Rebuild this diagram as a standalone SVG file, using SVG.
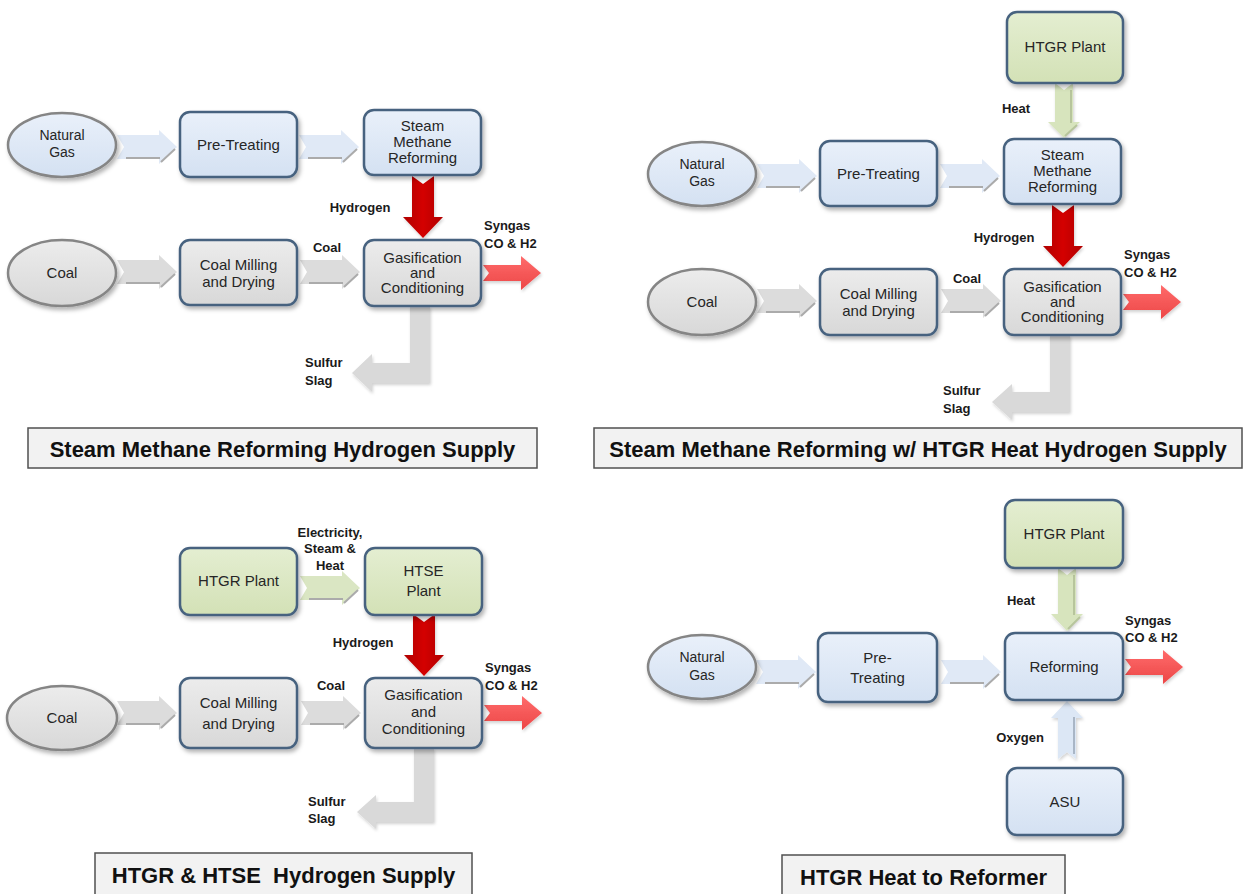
<svg xmlns="http://www.w3.org/2000/svg" xmlns:xlink="http://www.w3.org/1999/xlink" width="1250" height="894" viewBox="0 0 1250 894">
  <defs>
    <linearGradient id="gBlue" x1="0" y1="0" x2="0" y2="1">
      <stop offset="0" stop-color="#e9f0fa"/>
      <stop offset="1" stop-color="#d4e1f2"/>
    </linearGradient>
    <linearGradient id="gGray" x1="0" y1="0" x2="0" y2="1">
      <stop offset="0" stop-color="#ececec"/>
      <stop offset="1" stop-color="#d8d8d8"/>
    </linearGradient>
    <linearGradient id="gGreen" x1="0" y1="0" x2="0" y2="1">
      <stop offset="0" stop-color="#e4eed1"/>
      <stop offset="1" stop-color="#d3e1b6"/>
    </linearGradient>
    <linearGradient id="gRed" x1="0" y1="0" x2="1" y2="0">
      <stop offset="0" stop-color="#b00000"/>
      <stop offset="0.5" stop-color="#d40000"/>
      <stop offset="1" stop-color="#b00000"/>
    </linearGradient>
    <linearGradient id="gSyn" x1="0" y1="0" x2="0" y2="1">
      <stop offset="0" stop-color="#ff6b6b"/>
      <stop offset="1" stop-color="#ec4646"/>
    </linearGradient>
    <filter id="sh" x="-15%" y="-15%" width="140%" height="150%">
      <feDropShadow dx="2" dy="3" stdDeviation="2" flood-color="#000" flood-opacity="0.3"/>
    </filter>
    <filter id="shl" x="-15%" y="-15%" width="140%" height="150%">
      <feDropShadow dx="1" dy="2" stdDeviation="1.5" flood-color="#000" flood-opacity="0.18"/>
    </filter>
    <!-- notched horizontal flow arrow, 60 long, centred on y=0 -->
    <g id="chev">
      <path d="M0,-12 L42,-12 L42,-17 L60,0 L42,17 L42,12 L0,12 L7,0 Z"/>
      <path d="M9,11 L43,11 M44,15 L58,2" fill="none" stroke="#ababab" stroke-width="2"/>
    </g>
    <style>
      .box { stroke:#46627f; stroke-width:2.5; filter:url(#sh); }
      .ell { stroke:#858585; stroke-width:2.5; filter:url(#sh); }
      .blue { fill:url(#gBlue); }
      .gray { fill:url(#gGray); }
      .green { fill:url(#gGreen); }
      .cb { fill:#e0e9f6; }
      .cg { fill:#dcdcdc; }
      .cn { fill:#dae6c3; }
      .h2 { fill:url(#gRed); filter:url(#shl); }
      .syn { fill:url(#gSyn); filter:url(#shl); }
      .slag { fill:#d9d9d9; filter:url(#shl); }
      .heat { fill:#d7e4bd; filter:url(#shl); }
      .oxy { fill:#dce7f5; filter:url(#shl); }
      .edge { fill:none; stroke-width:2; }
      .t { font-family:"Liberation Sans", Arial, sans-serif; font-size:15px; fill:#262626; text-anchor:middle; }
      .te { font-size:14px; }
      .lb { font-family:"Liberation Sans", Arial, sans-serif; font-size:13px; font-weight:bold; fill:#1a1a1a; }
      .lc { text-anchor:middle; }
      .ttl rect { fill:#f2f2f2; stroke:#505050; stroke-width:1.5; }
      .ttl text { font-family:"Liberation Sans", Arial, sans-serif; font-size:22px; font-weight:bold; fill:#111; text-anchor:middle; }
    </style>
  </defs>

  <rect width="1250" height="894" fill="#ffffff"/>

  <!-- ===== Panel 1: Steam Methane Reforming Hydrogen Supply ===== -->
  <g id="p1">
    <g id="p1-connectors">
      <use xlink:href="#chev" href="#chev" x="117" y="147" class="cb"/>
      <use xlink:href="#chev" href="#chev" x="299" y="147" class="cb"/>
      <use xlink:href="#chev" href="#chev" x="117" y="272" class="cg"/>
      <use xlink:href="#chev" href="#chev" x="300" y="272" class="cg"/>
      <path class="h2" d="M412,176 L423,184 L434,176 L434,217 L443,217 L423,238 L403,217 L412,217 Z"/>
      <path class="syn" d="M483,265 L521,265 L521,256 L541,273 L521,290 L521,281 L483,281 L489,273 Z"/>
      <path class="slag" d="M410,306 L430,306 L430,383 L372,383 L372,392 L352,373 L372,354 L372,363 L410,363 Z"/>
      <text class="lb lc" x="360" y="212">Hydrogen</text>
      <text class="lb lc" x="327" y="252">Coal</text>
      <text class="lb" x="484" y="230">Syngas</text>
      <text class="lb" x="484" y="248">CO &amp; H2</text>
      <text class="lb" x="305" y="367">Sulfur</text>
      <text class="lb" x="305" y="385">Slag</text>
    </g>
    <g id="p1-natural-gas">
      <ellipse class="ell blue" cx="62" cy="145" rx="54" ry="32"/>
      <text class="t te" x="62" y="140">Natural</text>
      <text class="t te" x="62" y="157">Gas</text>
    </g>
    <g id="p1-pretreating">
      <rect class="box blue" x="180" y="112" width="117" height="65" rx="10"/>
      <text class="t" x="238.5" y="150">Pre-Treating</text>
    </g>
    <g id="p1-smr">
      <rect class="box blue" x="364" y="110" width="117" height="65" rx="10"/>
      <text class="t" x="422.5" y="131">Steam</text>
      <text class="t" x="422.5" y="147">Methane</text>
      <text class="t" x="422.5" y="163">Reforming</text>
    </g>
    <g id="p1-coal">
      <ellipse class="ell gray" cx="62" cy="273" rx="54" ry="33"/>
      <text class="t" x="62" y="278">Coal</text>
    </g>
    <g id="p1-milling">
      <rect class="box gray" x="180" y="240" width="117" height="65" rx="10"/>
      <text class="t" x="238.5" y="270">Coal Milling</text>
      <text class="t" x="238.5" y="287">and Drying</text>
    </g>
    <g id="p1-gasification">
      <rect class="box gray" x="364" y="240" width="117" height="66" rx="10"/>
      <text class="t" x="422.5" y="263">Gasification</text>
      <text class="t" x="422.5" y="278">and</text>
      <text class="t" x="422.5" y="293">Conditioning</text>
    </g>
    <g id="p1-title" class="ttl">
      <rect x="28" y="428" width="509" height="40"/>
      <text x="282.5" y="457">Steam Methane Reforming Hydrogen Supply</text>
    </g>
  </g>

  <!-- ===== Panel 2: Steam Methane Reforming w/ HTGR Heat ===== -->
  <g id="p2">
    <g id="p2-connectors">
      <use xlink:href="#chev" href="#chev" x="757" y="176" class="cb"/>
      <use xlink:href="#chev" href="#chev" x="940" y="176" class="cb"/>
      <use xlink:href="#chev" href="#chev" x="757" y="301" class="cg"/>
      <use xlink:href="#chev" href="#chev" x="941" y="301" class="cg"/>
      <path class="heat" d="M1055,83 L1064,90 L1073,83 L1073,122 L1080,122 L1064,138 L1048,122 L1055,122 Z"/>
      <path class="edge" stroke="#b7c59c" d="M1071,90 L1071,123 M1077,125 L1065,136"/>
      <path class="h2" d="M1052,205 L1063,213 L1074,205 L1074,246 L1083,246 L1063,267 L1043,246 L1052,246 Z"/>
      <path class="syn" d="M1123,294 L1161,294 L1161,285 L1181,302 L1161,319 L1161,310 L1123,310 L1129,302 Z"/>
      <path class="slag" d="M1050,335 L1070,335 L1070,412 L1012,412 L1012,420 L992,402 L1012,384 L1012,392 L1050,392 Z"/>
      <text class="lb lc" x="1016" y="113">Heat</text>
      <text class="lb lc" x="1004" y="242">Hydrogen</text>
      <text class="lb lc" x="967" y="283">Coal</text>
      <text class="lb" x="1124" y="259">Syngas</text>
      <text class="lb" x="1124" y="277">CO &amp; H2</text>
      <text class="lb" x="943" y="395">Sulfur</text>
      <text class="lb" x="943" y="413">Slag</text>
    </g>
    <g id="p2-htgr">
      <rect class="box green" x="1007" y="12" width="116" height="71" rx="10"/>
      <text class="t" x="1065" y="52">HTGR Plant</text>
    </g>
    <g id="p2-natural-gas">
      <ellipse class="ell blue" cx="702" cy="174" rx="54" ry="32"/>
      <text class="t te" x="702" y="169">Natural</text>
      <text class="t te" x="702" y="186">Gas</text>
    </g>
    <g id="p2-pretreating">
      <rect class="box blue" x="820" y="141" width="117" height="65" rx="10"/>
      <text class="t" x="878.5" y="179">Pre-Treating</text>
    </g>
    <g id="p2-smr">
      <rect class="box blue" x="1004" y="139" width="117" height="65" rx="10"/>
      <text class="t" x="1062.5" y="160">Steam</text>
      <text class="t" x="1062.5" y="176">Methane</text>
      <text class="t" x="1062.5" y="192">Reforming</text>
    </g>
    <g id="p2-coal">
      <ellipse class="ell gray" cx="702" cy="302" rx="54" ry="33"/>
      <text class="t" x="702" y="307">Coal</text>
    </g>
    <g id="p2-milling">
      <rect class="box gray" x="820" y="269" width="117" height="66" rx="10"/>
      <text class="t" x="878.5" y="299">Coal Milling</text>
      <text class="t" x="878.5" y="316">and Drying</text>
    </g>
    <g id="p2-gasification">
      <rect class="box gray" x="1004" y="269" width="117" height="66" rx="10"/>
      <text class="t" x="1062.5" y="292">Gasification</text>
      <text class="t" x="1062.5" y="307">and</text>
      <text class="t" x="1062.5" y="322">Conditioning</text>
    </g>
    <g id="p2-title" class="ttl">
      <rect x="594" y="428" width="648" height="40"/>
      <text x="918" y="457">Steam Methane Reforming w/ HTGR Heat Hydrogen Supply</text>
    </g>
  </g>

  <!-- ===== Panel 3: HTGR & HTSE Hydrogen Supply ===== -->
  <g id="p3">
    <g id="p3-connectors">
      <use xlink:href="#chev" href="#chev" x="300" y="588" class="cn"/>
      <use xlink:href="#chev" href="#chev" x="117" y="713" class="cg"/>
      <use xlink:href="#chev" href="#chev" x="301" y="713" class="cg"/>
      <path class="h2" d="M413,614 L424,622 L435,614 L435,655 L444,655 L424,676 L404,655 L413,655 Z"/>
      <path class="syn" d="M484,705 L522,705 L522,696 L542,713 L522,730 L522,721 L484,721 L490,713 Z"/>
      <path class="slag" d="M414,748 L434,748 L434,822 L376,822 L376,829 L357,812 L376,795 L376,802 L414,802 Z"/>
      <text class="lb lc" x="330" y="537">Electricity,</text>
      <text class="lb lc" x="330" y="553">Steam &amp;</text>
      <text class="lb lc" x="330" y="570">Heat</text>
      <text class="lb lc" x="363" y="647">Hydrogen</text>
      <text class="lb lc" x="331" y="690">Coal</text>
      <text class="lb" x="485" y="672">Syngas</text>
      <text class="lb" x="485" y="690">CO &amp; H2</text>
      <text class="lb" x="308" y="806">Sulfur</text>
      <text class="lb" x="308" y="823">Slag</text>
    </g>
    <g id="p3-htgr">
      <rect class="box green" x="180" y="548" width="117" height="67" rx="10"/>
      <text class="t" x="238.5" y="586">HTGR Plant</text>
    </g>
    <g id="p3-htse">
      <rect class="box green" x="365" y="548" width="117" height="67" rx="10"/>
      <text class="t" x="423.5" y="576">HTSE</text>
      <text class="t" x="423.5" y="596">Plant</text>
    </g>
    <g id="p3-coal">
      <ellipse class="ell gray" cx="62" cy="718" rx="55" ry="32"/>
      <text class="t" x="62" y="723">Coal</text>
    </g>
    <g id="p3-milling">
      <rect class="box gray" x="180" y="678" width="117" height="70" rx="10"/>
      <text class="t" x="238.5" y="708">Coal Milling</text>
      <text class="t" x="238.5" y="729">and Drying</text>
    </g>
    <g id="p3-gasification">
      <rect class="box gray" x="365" y="678" width="117" height="70" rx="10"/>
      <text class="t" x="423.5" y="700">Gasification</text>
      <text class="t" x="423.5" y="717">and</text>
      <text class="t" x="423.5" y="734">Conditioning</text>
    </g>
    <g id="p3-title" class="ttl">
      <rect x="95" y="853" width="377" height="50"/>
      <text x="283.5" y="883" xml:space="preserve">HTGR &amp; HTSE  Hydrogen Supply</text>
    </g>
  </g>

  <!-- ===== Panel 4: HTGR Heat to Reformer ===== -->
  <g id="p4">
    <g id="p4-connectors">
      <use xlink:href="#chev" href="#chev" x="756" y="672" class="cb"/>
      <use xlink:href="#chev" href="#chev" x="941" y="672" class="cb"/>
      <path class="heat" d="M1058,568 L1067,575 L1076,568 L1076,614 L1083,614 L1067,631 L1051,614 L1058,614 Z"/>
      <path class="edge" stroke="#b7c59c" d="M1074,575 L1074,615 M1080,617 L1068,629"/>
      <path class="oxy" d="M1058,759 L1067,752 L1076,759 L1076,718 L1083,718 L1067,701 L1051,718 L1058,718 Z"/>
      <path class="edge" stroke="#a9b6c6" d="M1074,717 L1074,754"/>
      <path class="syn" d="M1125,659 L1163,659 L1163,650 L1183,667 L1163,684 L1163,675 L1125,675 L1131,667 Z"/>
      <text class="lb lc" x="1021" y="605">Heat</text>
      <text class="lb" x="1125" y="625">Syngas</text>
      <text class="lb" x="1125" y="642">CO &amp; H2</text>
      <text class="lb lc" x="1020" y="742">Oxygen</text>
    </g>
    <g id="p4-htgr">
      <rect class="box green" x="1005" y="500" width="118" height="68" rx="10"/>
      <text class="t" x="1064" y="539">HTGR Plant</text>
    </g>
    <g id="p4-natural-gas">
      <ellipse class="ell blue" cx="702" cy="667" rx="54" ry="32"/>
      <text class="t te" x="702" y="662">Natural</text>
      <text class="t te" x="702" y="680">Gas</text>
    </g>
    <g id="p4-pretreating">
      <rect class="box blue" x="818" y="633" width="119" height="69" rx="10"/>
      <text class="t" x="877.5" y="663">Pre-</text>
      <text class="t" x="877.5" y="683">Treating</text>
    </g>
    <g id="p4-reforming">
      <rect class="box blue" x="1005" y="633" width="118" height="67" rx="10"/>
      <text class="t" x="1064" y="672">Reforming</text>
    </g>
    <g id="p4-asu">
      <rect class="box blue" x="1007" y="768" width="116" height="67" rx="10"/>
      <text class="t" x="1065" y="807">ASU</text>
    </g>
    <g id="p4-title" class="ttl">
      <rect x="782" y="855" width="283" height="50"/>
      <text x="923.5" y="885">HTGR Heat to Reformer</text>
    </g>
  </g>
</svg>
